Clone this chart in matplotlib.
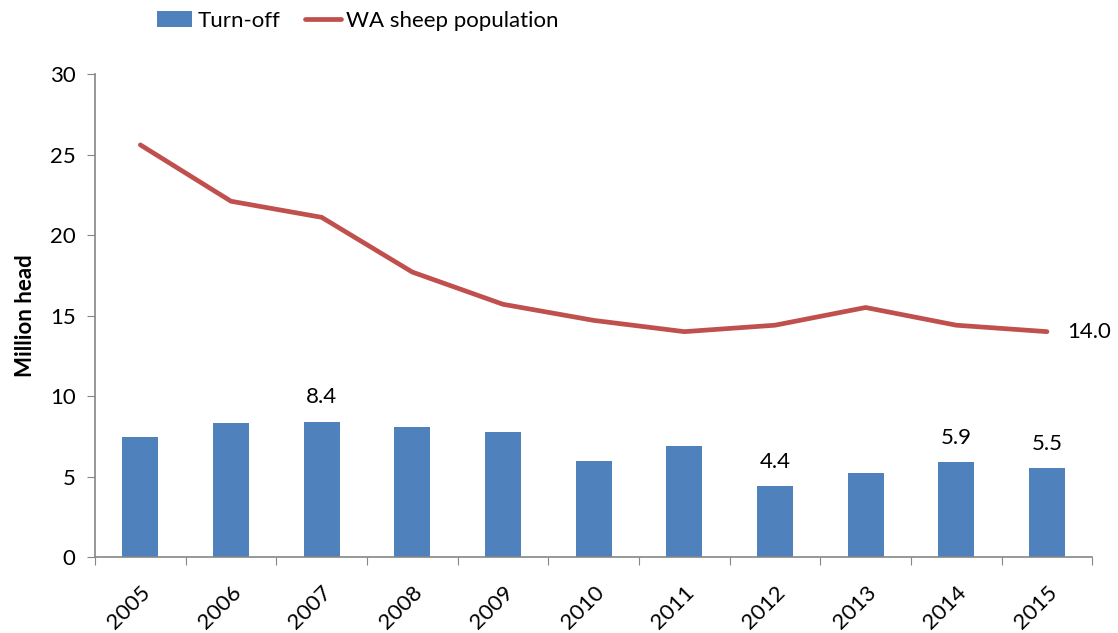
import matplotlib.pyplot as plt
import numpy as np

plt.rcParams['font.family'] = ['Lato', 'DejaVu Sans']

years = ['2005', '2006', '2007', '2008', '2009', '2010', '2011', '2012', '2013', '2014', '2015']
turnoff = [7.45, 8.3, 8.4, 8.1, 7.75, 5.95, 6.9, 4.4, 5.2, 5.9, 5.5]
sheep_pop = [25.6, 22.1, 21.1, 17.7, 15.7, 14.7, 14.0, 14.4, 15.5, 14.4, 14.0]
bar_labels = {2: '8.4', 7: '4.4', 9: '5.9', 10: '5.5'}

blue = '#4F81BD'
red = '#C0504D'
grey = '#868686'
fs = 16

fig = plt.figure(figsize=(11.18, 6.33), dpi=100)
ax = fig.add_axes([0.085, 0.12, 0.892, 0.763])

x = np.arange(len(years))
bars = ax.bar(x, turnoff, width=0.4, color=blue, label='Turn-off', zorder=2)
line, = ax.plot(x, sheep_pop, color=red, lw=3.4, solid_capstyle='round', label='WA sheep population', zorder=3)

for i, s in bar_labels.items():
    ax.text(x[i], turnoff[i] + 0.9, s, ha='center', va='bottom', fontsize=fs)
ax.text(x[-1] + 0.22, sheep_pop[-1], '%.1f' % sheep_pop[-1], ha='left', va='center', fontsize=fs)

ax.set_xlim(-0.5, len(years) - 0.5)
ax.set_ylim(0, 30)
ax.set_yticks(range(0, 31, 5))
ax.set_xticks(np.arange(-0.5, len(years), 1))
ax.set_xticklabels([])
ax.set_xticks(x, minor=True)
ax.set_xticklabels(years, minor=True, rotation=45, ha='right', rotation_mode='anchor', fontsize=fs)
ax.tick_params(axis='x', which='minor', length=0, pad=18)
ax.tick_params(axis='x', which='major', length=6, color=grey, direction='out')
ax.tick_params(axis='y', length=6, color=grey, labelsize=fs, direction='out', pad=8)

for side in ['top', 'right']:
    ax.spines[side].set_visible(False)
for side in ['left', 'bottom']:
    ax.spines[side].set_color(grey)
    ax.spines[side].set_linewidth(1.2)

ax.set_ylabel('Million head', fontsize=fs, fontweight='bold', labelpad=10)

fig.legend([bars, line], ['Turn-off', 'WA sheep population'], loc='upper center',
           bbox_to_anchor=(0.32, 1.015), ncol=2, frameon=False,
           fontsize=fs, handlelength=1.6, columnspacing=1.1, handletextpad=0.25)

fig.savefig('out.png', dpi=100)
